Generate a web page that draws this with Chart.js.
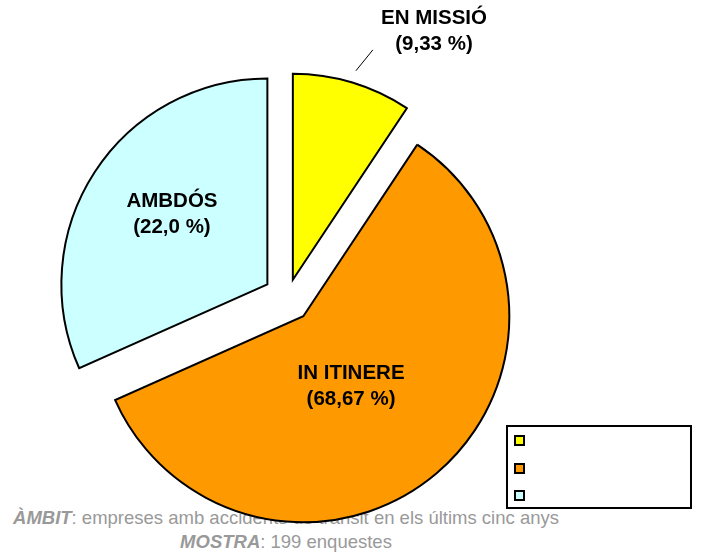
<!DOCTYPE html>
<html>
<head>
<meta charset="utf-8">
<script src="https://cdn.jsdelivr.net/npm/chart.js@4.4.0/dist/chart.umd.min.js"></script>
<style>
  html, body { margin: 0; padding: 0; background: #fff; }
  #wrap { position: relative; width: 702px; height: 555px; overflow: hidden; }
  #pie { position: absolute; left: 0; top: 0; }
  .note {
    position: absolute; left: 0; top: 505.5px; width: 572px;
    text-align: center; line-height: 24px;
    font-family: "Liberation Sans", Arial, sans-serif; font-size: 18.5px; color: #999;
  }
  .note b { font-style: italic; }
  #legend {
    position: absolute; left: 506px; top: 425px; width: 182px; height: 80px;
    border: 2px solid #000; background: #fff;
  }
  #legend .sw {
    position: absolute; left: 6px; width: 7px; height: 7px; border: 2px solid #000;
  }
</style>
</head>
<body>
<div id="wrap">
  <div class="note"><b>ÀMBIT</b>: empreses amb accidents de trànsit en els últims cinc anys<br><b>MOSTRA</b>: 199 enquestes</div>
  <canvas id="pie" width="702" height="555"></canvas>
  <div id="legend"></div>
</div>
<script>
// categories and what is printed on each slice
const categories = ['EN MISSIÓ', 'IN ITINERE', 'AMBDÓS'];
const pctLabels = ['(9,33 %)', '(68,67 %)', '(22,0 %)'];
// slice sizes as they are drawn in the picture (the printed % do not match the angles)
const sliceValues = [9.33, 59.0, 31.67];
const sliceColors = ['#FFFF00', '#FF9900', '#CCFFFF'];

// how far each slice is pulled out of the centre, px
const explodeBy = [18.5, 24.5, 24];

// label placement: r = fraction of radius, turn = degrees away from the slice middle
const labelLayout = [
    { r: 1.418, turn: 12.1, leader: { from: 1.06, to: 1.182, turn: 2.4 } },
    { r: 0.383, turn: 3.0 },
    { r: 0.596, turn: 6.0 }
];

// move every arc outward along its middle angle (no shrinking like the built-in offset)
const explodePlugin = {
    id: 'explode',
    afterDatasetUpdate(chart, args) {
        args.meta.data.forEach((arc, i) => {
            const mid = (arc.startAngle + arc.endAngle) / 2;
            arc.x += Math.cos(mid) * explodeBy[i];
            arc.y += Math.sin(mid) * explodeBy[i];
        });
    }
};

// two-line bold labels, plus the small leader line for the outside one
const labelPlugin = {
    id: 'sliceLabels',
    afterDatasetsDraw(chart) {
        const ctx = chart.ctx;
        const arcs = chart.getDatasetMeta(0).data;
        const deg = Math.PI / 180;
        ctx.save();
        ctx.font = 'bold 20.5px "Liberation Sans", Arial, sans-serif';
        ctx.fillStyle = '#000';
        ctx.textAlign = 'center';
        ctx.textBaseline = 'alphabetic';
        arcs.forEach((arc, i) => {
            const lay = labelLayout[i];
            const mid = (arc.startAngle + arc.endAngle) / 2;
            const R = arc.outerRadius;
            const a = mid + lay.turn * deg;
            const x = arc.x + Math.cos(a) * R * lay.r;
            const y = arc.y + Math.sin(a) * R * lay.r;
            ctx.fillText(categories[i], x, y);
            ctx.fillText(pctLabels[i], x, y + 26);

            if (lay.leader) {
                const b = mid + lay.leader.turn * deg;
                ctx.beginPath();
                ctx.lineWidth = 1;
                ctx.strokeStyle = '#000';
                ctx.moveTo(arc.x + Math.cos(mid) * R * lay.leader.from, arc.y + Math.sin(mid) * R * lay.leader.from);
                ctx.lineTo(arc.x + Math.cos(b) * R * lay.leader.to, arc.y + Math.sin(b) * R * lay.leader.to);
                ctx.stroke();
            }
        });
        ctx.restore();
    }
};

new Chart(document.getElementById('pie'), {
    type: 'pie',
    data: {
        labels: categories,
        datasets: [{
            data: sliceValues,
            backgroundColor: sliceColors,
            borderColor: '#000',
            borderWidth: 2,
            borderJoinStyle: 'miter',
            radius: 206,
            clip: false
        }]
    },
    options: {
        responsive: false,
        animation: false,
        layout: { padding: { left: 0, right: 127, top: 40, bottom: 0 } },
        plugins: {
            legend: { display: false },
            tooltip: { enabled: false }
        }
    },
    plugins: [explodePlugin, labelPlugin]
});

// legend box: colour swatches only, no text (as in the picture)
const legend = document.getElementById('legend');
sliceColors.forEach((c, i) => {
    const sw = document.createElement('div');
    sw.className = 'sw';
    sw.style.background = c;
    sw.style.top = (8 + i * 27.7) + 'px';
    legend.appendChild(sw);
});
</script>
</body>
</html>
